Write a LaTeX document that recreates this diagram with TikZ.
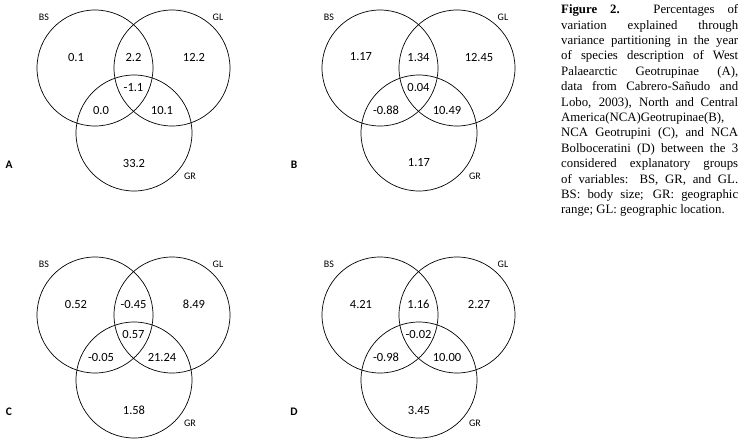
\documentclass[tikz,border=0pt]{standalone}
\usepackage{fontspec}
\setmainfont{Liberation Serif}
\newfontfamily\vennfont{Carlito}
\tikzset{
  venncirc/.style={draw=black, line width=0.7pt},
  vennval/.style={font=\vennfont\fontsize{12.5}{14}\selectfont, inner sep=0pt},
  vennset/.style={font=\vennfont\fontsize{10}{12}\selectfont, inner sep=0pt},
  vennpanel/.style={font=\vennfont\bfseries\fontsize{11.5}{13}\selectfont, inner sep=0pt},
}

\begin{document}
\begin{tikzpicture}[x=1pt, y=-1pt]
  \useasboundingbox (0,0) rectangle (744,440);
  % four panels: BS, GL, GR and the shared parts
  \foreach \dx/\dy/\p/\a/\b/\c/\d/\e/\f/\g in {
      0/0/A/0.1/2.2/12.2/-1.1/0.0/10.1/33.2,
      285/0/B/1.17/1.34/12.45/0.04/-0.88/10.49/1.17,
      0/247/C/0.52/-0.45/8.49/0.57/-0.05/21.24/1.58,
      285/247/D/4.21/1.16/2.27/-0.02/-0.98/10.00/3.45}{
    \begin{scope}[shift={(\dx,\dy)}]
      \draw[venncirc] (95,68) circle[radius=58pt];
      \draw[venncirc] (172,68) circle[radius=58pt];
      \draw[venncirc] (134,133) circle[radius=58pt];
      \node[vennset] (\p-bs) at (44,17) {BS};
      \node[vennset] (\p-gl) at (218,17) {GL};
      \node[vennset] (\p-gr) at (190,176) {GR};
      \node[vennpanel] (\p-tag) at (9,165) {\p};
      \node[vennval] (\p-v1) at (76,57) {\a};
      \node[vennval] (\p-v2) at (133.5,57) {\b};
      \node[vennval] (\p-v3) at (194,57) {\c};
      \node[vennval] (\p-v4) at (133.5,87.5) {\d};
      \node[vennval] (\p-v5) at (101,110) {\e};
      \node[vennval] (\p-v6) at (162,110) {\f};
      \node[vennval] (\p-v7) at (134,163) {\g};
    \end{scope}
  }
  % caption
  \node[anchor=north west, inner sep=0pt, text width=177pt, align=justify,
        font=\fontsize{12.8}{15.4}\selectfont] (caption) at (561,4.5)
    {\setlength{\baselineskip}{15.4pt}\hbadness=10000
     \textbf{Figure 2.} Percentages of\linebreak
     variation explained through\linebreak
     variance partitioning in the year\linebreak
     of species description of West\linebreak
     Palaearctic Geotrupinae (A),\linebreak
     data from Cabrero-Sañudo and\linebreak
     Lobo, 2003), North and Central\linebreak
     America(NCA)Geotrupinae(B),\linebreak
     NCA Geotrupini (C), and NCA\linebreak
     Bolboceratini (D) between the 3\linebreak
     considered explanatory groups\linebreak
     of variables: BS, GR, and GL.\linebreak
     BS: body size; GR: geographic\linebreak
     range; GL: geographic location.\par};
\end{tikzpicture}
\end{document}
